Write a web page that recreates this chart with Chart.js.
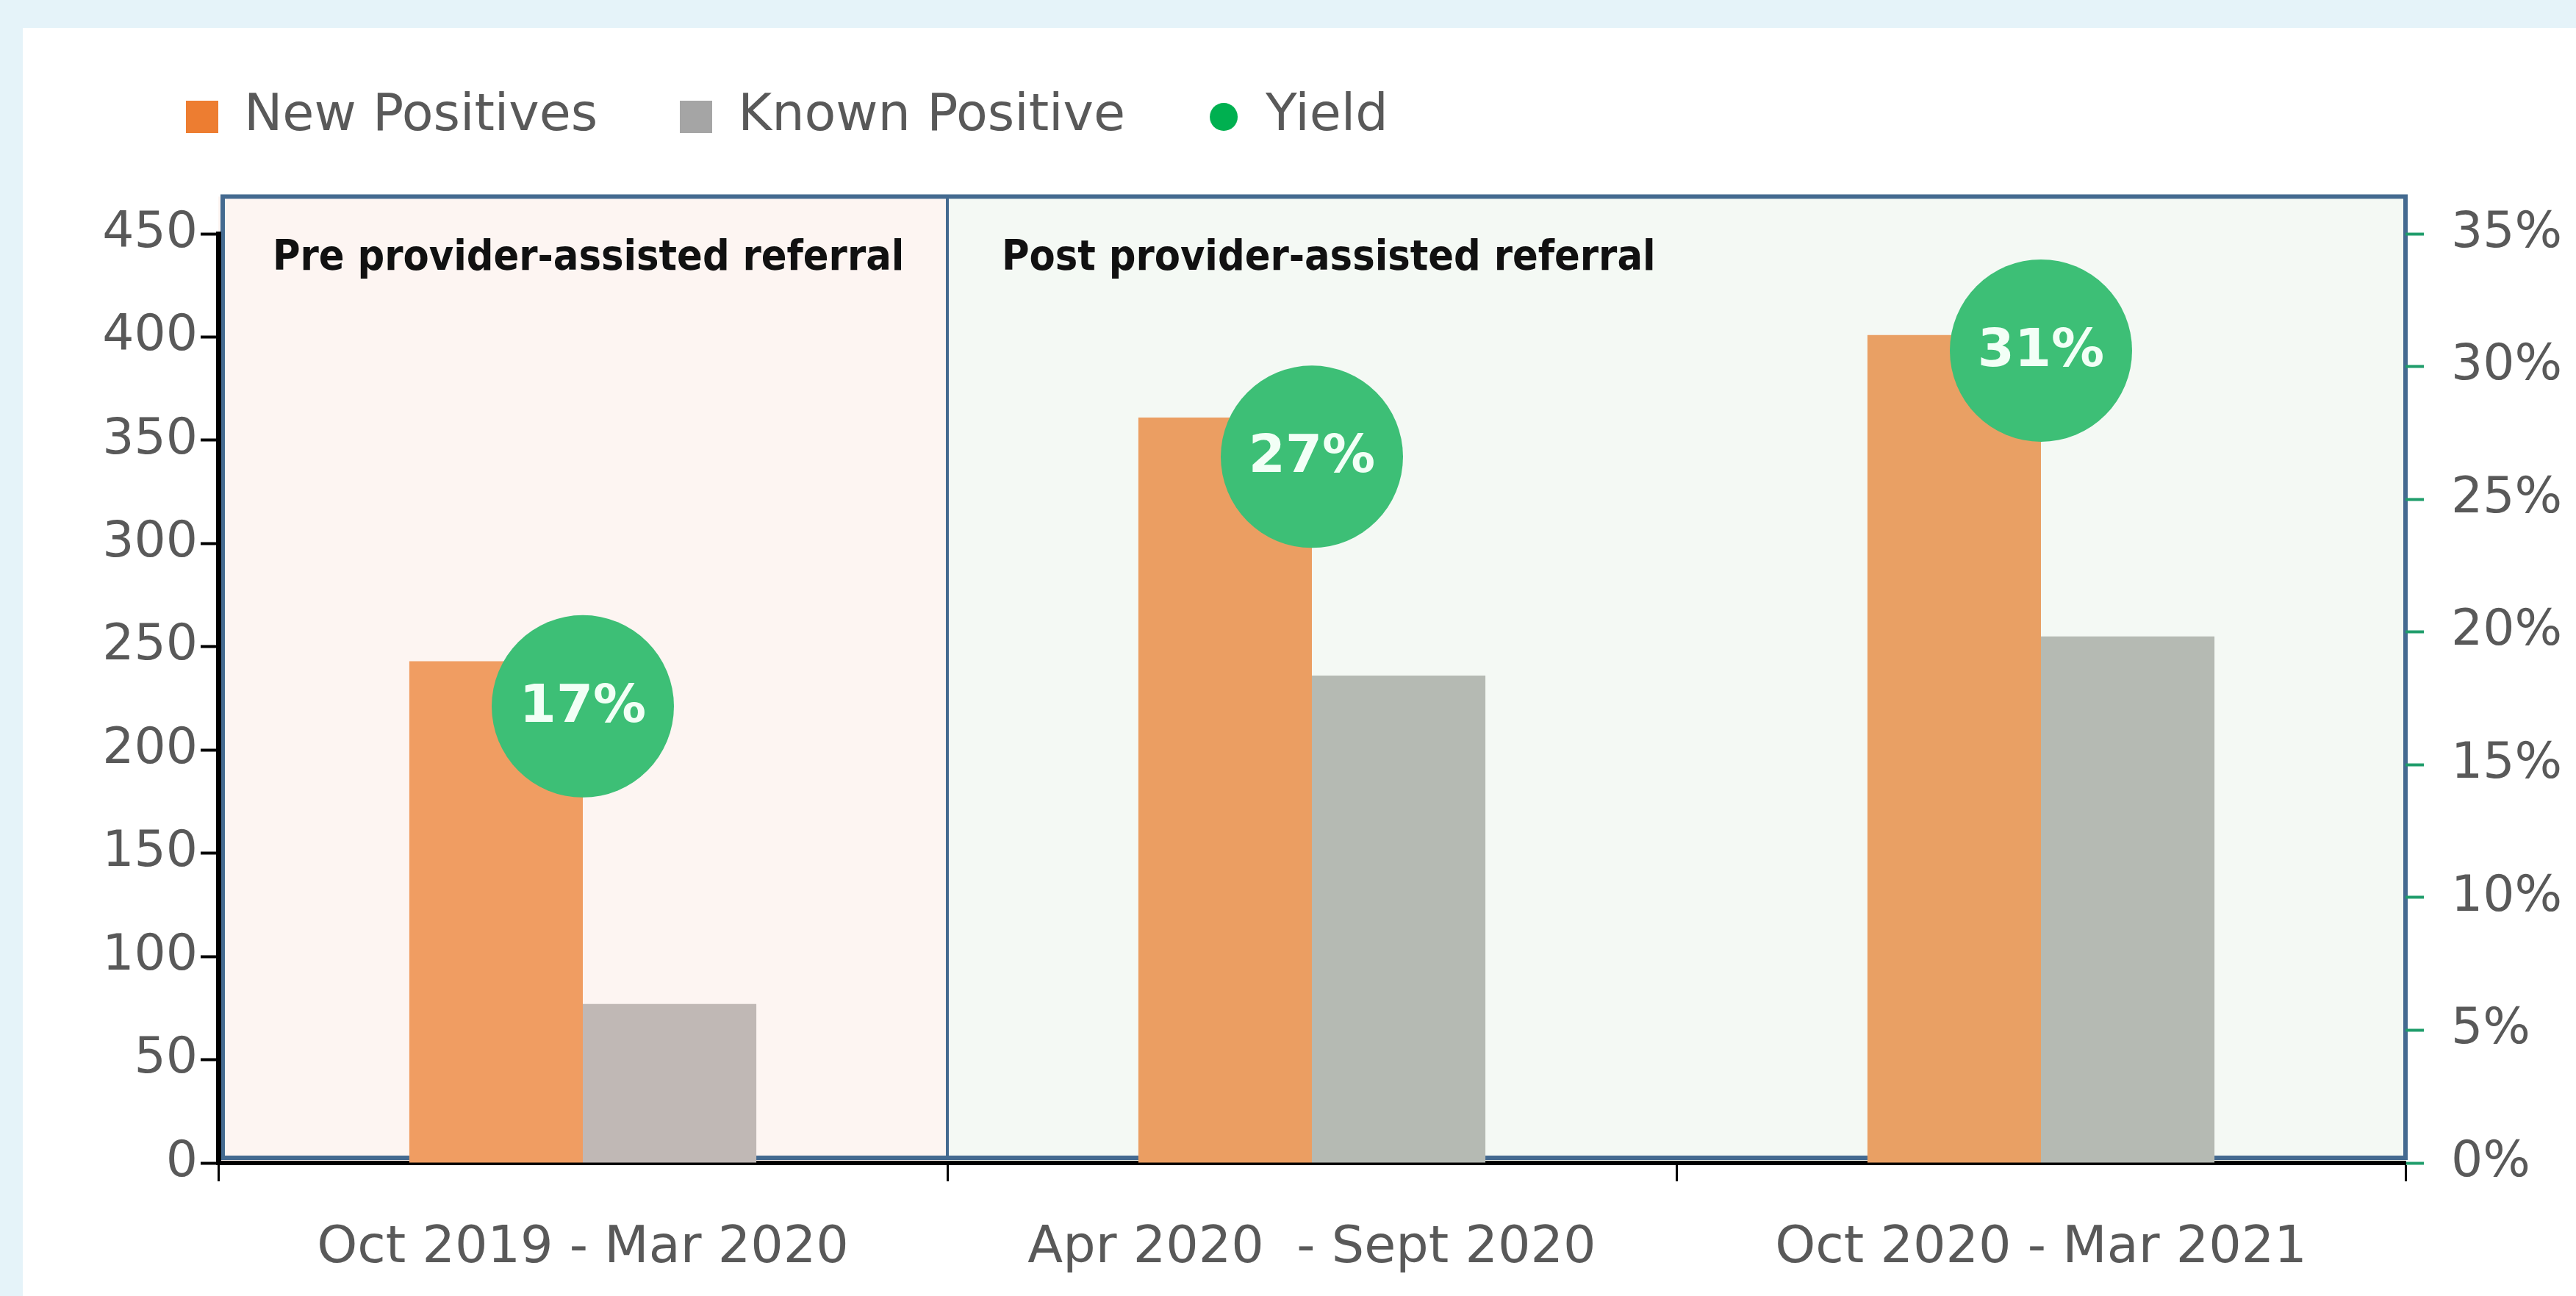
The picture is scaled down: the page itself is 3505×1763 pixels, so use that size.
<!DOCTYPE html>
<html>
<head>
<meta charset="utf-8">
<script src="https://cdn.jsdelivr.net/npm/chart.js@4.4.1/dist/chart.umd.min.js"></script>
<style>
  html, body { margin: 0; padding: 0; background: #e5f3f9; }
  body { width: 3505px; height: 1763px; position: relative; overflow: hidden; }
  #panel { position: absolute; left: 31px; top: 38px; right: 0; bottom: 0; background: #fff; }
  #wrap { position: absolute; left: 0; top: 0; width: 3505px; height: 1763px; }
</style>
</head>
<body>
<div id="panel"></div>
<div id="wrap"><canvas id="yield-chart"></canvas></div>
<script>
// data
const periods = ['Oct 2019 - Mar 2020', 'Apr 2020  - Sept 2020', 'Oct 2020 - Mar 2021'];
const newPositives = [243, 361, 401];
const knownPositive = [77, 236, 255];
// bubble centres sit a little off the whole percent shown in them
const yieldRate = [0.172, 0.266, 0.306];

const countTicks = [0, 50, 100, 150, 200, 250, 300, 350, 400, 450];
const rateTicks = [0, 0.05, 0.10, 0.15, 0.20, 0.25, 0.30, 0.35];

// shaded phases: label + first/last category index
const phaseLabels = ['Pre provider-assisted referral', 'Post provider-assisted referral'];
const phaseStart = [0, 1];
const phaseEnd = [0, 2];
const phaseFill = ['#fdf5f2', '#f4f9f4'];

// bars look washed over the phase shading, so each bar gets its own tint
const newColors = ['#f09d62', '#eb9e62', '#e9a064'];
const knownColors = ['#c0b8b5', '#b5bab3', '#b5bab3'];

const TICK_FONT = { family: 'DejaVu Sans', size: 68 };
const GREY_TEXT = '#595959';
const LEGEND_BOX = 44;
const LEGEND_GAP = 112;

function swatch(color, round) {
  const c = document.createElement('canvas');
  c.width = LEGEND_BOX; c.height = LEGEND_BOX;
  const g = c.getContext('2d');
  g.fillStyle = color;
  if (round) {
    g.beginPath();
    g.arc(22, 22, 19, 0, Math.PI * 2);
    g.fill();
  } else {
    g.fillRect(0, 0, LEGEND_BOX, LEGEND_BOX);
  }
  return c;
}

const legendSwatches = [swatch('#ed7d31'), swatch('#a5a5a5'), swatch('#00b050', true)];

const phaseBoxes = {
  id: 'phaseBoxes',
  beforeDraw(chart) {
    const { ctx, chartArea, scales: { x, y } } = chart;
    const top = y.getPixelForValue(468);
    const bottom = chartArea.bottom - 7;
    ctx.save();
    phaseLabels.forEach((label, i) => {
      const left = x.getPixelForValue(phaseStart[i] - 0.5);
      const right = x.getPixelForValue(phaseEnd[i] + 0.5);
      ctx.fillStyle = phaseFill[i];
      ctx.fillRect(left, top, right - left, chartArea.bottom - top);
    });
    // outline + divider
    ctx.strokeStyle = '#446a90';
    ctx.lineWidth = 6;
    ctx.strokeRect(chartArea.left + 6, top, chartArea.right - chartArea.left - 6, bottom - top);
    ctx.lineWidth = 4;
    for (let i = 1; i < phaseLabels.length; i++) {
      const xb = x.getPixelForValue(phaseStart[i] - 0.5);
      ctx.beginPath();
      ctx.moveTo(xb, top);
      ctx.lineTo(xb, bottom);
      ctx.stroke();
    }
    ctx.fillStyle = '#111';
    ctx.textAlign = 'left';
    ctx.textBaseline = 'alphabetic';
    ctx.font = 'bold 57px "Liberation Sans Narrow", "DejaVu Sans Condensed", sans-serif';
    phaseLabels.forEach((label, i) => {
      const left = x.getPixelForValue(phaseStart[i] - 0.5);
      ctx.fillText(label, left + 74, top + 100);
    });
    ctx.restore();
  }
};

const bubbleLabels = {
  id: 'bubbleLabels',
  afterDatasetsDraw(chart) {
    const { ctx } = chart;
    const meta = chart.getDatasetMeta(2);
    ctx.save();
    ctx.fillStyle = '#f2fff6';
    ctx.font = 'bold 72px "DejaVu Sans"';
    ctx.textAlign = 'center';
    ctx.textBaseline = 'middle';
    meta.data.forEach((pt, i) => {
      ctx.fillText(Math.round(yieldRate[i] * 100) + '%', pt.x, pt.y + 2);
    });
    ctx.restore();
  }
};

// legend sits at the very top, its first swatch ending at the left axis line
const legendInset = {
  id: 'legendInset',
  afterLayout(chart) {
    chart.legend.left = chart.chartArea.left - LEGEND_BOX - LEGEND_GAP;
    chart.legend.top = chart.options.layout.padding.top;
  }
};

const ctx = document.getElementById('yield-chart').getContext('2d');
new Chart(ctx, {
  type: 'bar',
  data: {
    labels: periods,
    datasets: [
      {
        label: 'New Positives',
        data: newPositives,
        yAxisID: 'y',
        backgroundColor: newColors,
        categoryPercentage: 0.476,
        barPercentage: 1,
        order: 2
      },
      {
        label: 'Known Positive',
        data: knownPositive,
        yAxisID: 'y',
        backgroundColor: knownColors,
        categoryPercentage: 0.476,
        barPercentage: 1,
        order: 2
      },
      {
        type: 'line',
        label: 'Yield',
        data: yieldRate,
        yAxisID: 'y1',
        showLine: false,
        pointRadius: 124,
        pointHoverRadius: 124,
        pointBackgroundColor: '#3dbf76',
        pointBorderWidth: 0,
        clip: false,
        order: 1
      }
    ]
  },
  options: {
    responsive: true,
    maintainAspectRatio: false,
    devicePixelRatio: 1,
    animation: false,
    events: [],
    layout: { padding: { top: 12, left: 30, right: 0, bottom: 0 } },
    scales: {
      x: {
        grid: { display: true, drawOnChartArea: false, offset: true, tickLength: 25, tickColor: '#000', tickWidth: 3 },
        border: { display: true, color: '#000', width: 6 },
        ticks: { color: GREY_TEXT, font: { family: 'DejaVu Sans', size: 70 }, padding: 50, maxRotation: 0, autoSkip: false },
        afterFit: s => { s.height = 181; }
      },
      y: {
        position: 'left',
        min: 0,
        max: 450,
        afterBuildTicks: s => { s.ticks = countTicks.map(v => ({ value: v })); },
        grid: { drawOnChartArea: false, tickLength: 24, tickColor: '#000', tickWidth: 4 },
        border: { color: '#000', width: 7 },
        ticks: { color: GREY_TEXT, font: TICK_FONT, padding: 4 },
        afterFit: s => { s.width = 267; s.paddingTop = 318; }
      },
      y1: {
        position: 'right',
        min: 0,
        max: 0.35,
        afterBuildTicks: s => { s.ticks = rateTicks.map(v => ({ value: v })); },
        grid: { drawOnChartArea: false, tickLength: 25, tickColor: '#1f9d6b', tickWidth: 4 },
        border: { display: false },
        ticks: { color: GREY_TEXT, font: TICK_FONT, padding: 37, callback: v => Math.round(v * 100) + '%' },
        afterFit: s => { s.width = 232; }
      }
    },
    plugins: {
      tooltip: { enabled: false },
      legend: {
        position: 'top',
        align: 'start',
        labels: {
          usePointStyle: true,
          boxWidth: LEGEND_BOX,
          boxHeight: LEGEND_BOX,
          padding: LEGEND_GAP,
          color: GREY_TEXT,
          font: { family: 'DejaVu Sans', size: 70 },
          generateLabels: chart => chart.data.datasets.map((ds, i) => ({
            text: ds.label,
            fillStyle: '#000',
            strokeStyle: 'transparent',
            lineWidth: 0,
            pointStyle: legendSwatches[i],
            fontColor: GREY_TEXT,
            hidden: false,
            datasetIndex: i
          }))
        }
      }
    }
  },
  plugins: [phaseBoxes, bubbleLabels, legendInset]
});
</script>
</body>
</html>
